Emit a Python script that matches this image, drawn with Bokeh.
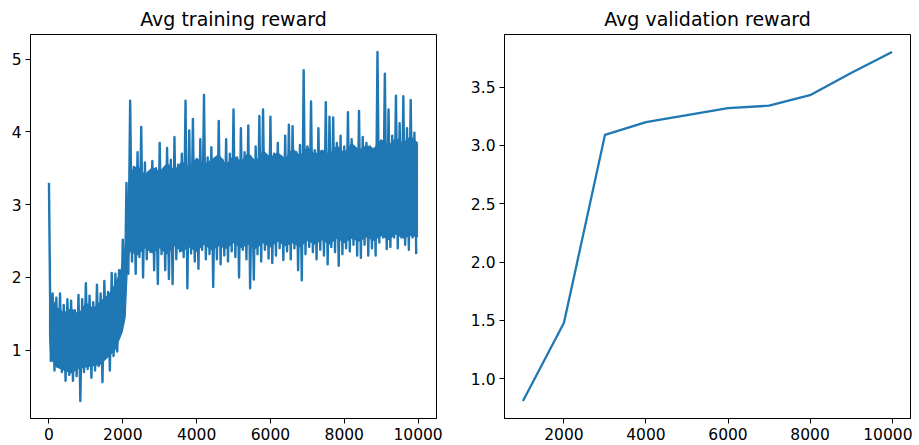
from bokeh.plotting import figure
from bokeh.layouts import row
from bokeh.models import Range1d, FixedTicker
from bokeh.embed import file_html
from bokeh.resources import INLINE

# ---- training reward (local highs / lows) ----
train_hi_x = list(range(0, 10000, 100))
train_hi = [3.30, 1.78, 1.72, 1.78, 1.62, 1.70, 1.68, 1.55, 1.76, 1.70,
            1.92, 1.75, 1.66, 1.90, 1.78, 1.95, 1.80, 2.06, 2.05, 2.10,
            2.52, 3.30, 4.43, 3.52, 3.72, 4.07, 3.58, 3.45, 3.60, 3.50,
            3.85, 3.40, 3.78, 3.62, 3.93, 3.55, 3.70, 4.43, 4.02, 4.18,
            3.60, 3.90, 4.51, 3.65, 3.79, 3.58, 4.15, 3.62, 3.90, 3.70,
            4.31, 3.65, 4.05, 3.72, 4.09, 3.60, 3.80, 4.22, 4.31, 3.62,
            4.21, 3.70, 3.85, 3.66, 3.95, 4.10, 4.08, 3.72, 3.82, 4.85,
            3.80, 4.42, 3.75, 4.05, 3.70, 4.41, 4.21, 4.20, 3.85, 3.95,
            3.80, 4.27, 3.90, 3.78, 4.29, 3.93, 3.85, 3.80, 3.72, 5.10,
            3.88, 4.80, 4.31, 3.95, 4.50, 4.12, 4.49, 4.05, 4.44, 3.99]
train_lo_x = list(range(50, 10000, 100))
train_lo = [0.85, 0.72, 0.78, 0.70, 0.58, 0.66, 0.58, 0.64, 0.30, 0.70,
            0.74, 0.62, 0.72, 0.78, 0.56, 0.90, 0.72, 0.92, 0.98, 1.25,
            1.50, 2.05, 2.22, 2.05, 2.28, 2.00, 2.25, 2.35, 2.10, 1.91,
            2.32, 2.10, 1.98, 1.91, 2.25, 2.36, 2.28, 1.85, 2.33, 2.22,
            2.12, 2.38, 2.25, 2.32, 1.87, 2.25, 2.18, 2.30, 2.22, 2.36,
            2.28, 2.00, 2.38, 2.25, 1.85, 1.97, 2.32, 2.22, 2.38, 2.26,
            2.20, 2.30, 2.40, 2.24, 2.36, 2.25, 2.40, 2.10, 1.96, 2.32,
            2.42, 2.35, 2.25, 2.38, 2.30, 2.18, 2.42, 2.35, 2.16, 2.32,
            2.40, 2.36, 2.45, 2.30, 2.27, 2.45, 2.30, 2.40, 2.30, 2.48,
            2.55, 2.39, 2.42, 2.55, 2.40, 2.55, 2.45, 2.38, 2.55, 2.32]

# dense core of the noisy band
band_x = [0, 40, 200, 400, 600, 800, 1000, 1200, 1400, 1600, 1800, 2000,
          2080, 2150,
          2200, 2400, 2600, 2800, 3000, 3200, 3400, 3600, 3800, 4000,
          4200, 4400, 4600, 4800, 5000, 5200, 5400, 5600, 5800, 6000,
          6200, 6400, 6600, 6800, 7000, 7200, 7400, 7600, 7800, 8000,
          8200, 8400, 8600, 8800, 9000, 9200, 9400, 9600, 9800, 9999]
band_hi = [3.10, 1.80, 1.60, 1.52, 1.58, 1.50, 1.66, 1.58, 1.68, 1.76, 1.92, 2.20,
           2.50, 3.30,
           3.45, 3.55, 3.42, 3.52, 3.46, 3.58, 3.48, 3.60, 3.52, 3.65,
           3.56, 3.62, 3.70, 3.56, 3.68, 3.60, 3.72, 3.60, 3.75, 3.66,
           3.72, 3.64, 3.78, 3.68, 3.80, 3.70, 3.76, 3.70, 3.82, 3.72,
           3.85, 3.76, 3.82, 3.78, 3.90, 3.82, 3.92, 3.85, 3.95, 3.85]
band_lo = [1.20, 0.88, 0.76, 0.72, 0.68, 0.74, 0.76, 0.78, 0.80, 0.90, 1.00, 1.25,
           1.45, 2.25,
           2.35, 2.30, 2.40, 2.33, 2.40, 2.31, 2.43, 2.35, 2.41, 2.35,
           2.45, 2.37, 2.43, 2.39, 2.47, 2.40, 2.45, 2.39, 2.47, 2.41,
           2.49, 2.43, 2.47, 2.41, 2.50, 2.45, 2.51, 2.45, 2.53, 2.47,
           2.53, 2.49, 2.55, 2.50, 2.57, 2.51, 2.59, 2.53, 2.57, 2.55]

# ---- validation reward ----
val_x = [1000, 2000, 3000, 4000, 5000, 6000, 7000, 8000, 9000, 10000]
val_y = [0.81, 1.48, 3.09, 3.20, 3.26, 3.32, 3.34, 3.43, 3.62, 3.80]

left_xticks = [0, 2000, 4000, 6000, 8000, 10000]
left_yticks = [1, 2, 3, 4, 5]
right_xticks = [2000, 4000, 6000, 8000, 10000]
right_yticks = [1.0, 1.5, 2.0, 2.5, 3.0, 3.5]
right_ylabels = ["1.0", "1.5", "2.0", "2.5", "3.0", "3.5"]

C0 = "#1f77b4"
FONT = "DejaVu Sans"

# interleave local highs and lows into one line
train_x, train_y = [], []
for i in range(len(train_hi_x)):
    train_x.append(train_hi_x[i]); train_y.append(train_hi[i])
    train_x.append(train_lo_x[i]); train_y.append(train_lo[i])


def style(p, title):
    p.title.text = title
    p.title.text_font = FONT
    p.title.text_font_size = "19px"
    p.title.text_font_style = "normal"
    p.title.align = "center"
    p.title.text_color = "black"
    p.outline_line_color = "black"
    p.outline_line_width = 1
    p.xgrid.visible = False
    p.ygrid.visible = False
    for ax in (p.xaxis[0], p.yaxis[0]):
        ax.major_label_text_font = FONT
        ax.major_label_text_font_size = "15.5px"
        ax.major_label_text_color = "black"
        ax.major_tick_out = 5
        ax.major_tick_in = 0
        ax.minor_tick_out = 0
        ax.minor_tick_in = 0
        ax.axis_line_color = "black"
        ax.major_tick_line_color = "black"
        ax.major_label_standoff = 4


p1 = figure(frame_width=406, frame_height=384, output_backend="svg", toolbar_location=None,
            x_range=Range1d(-500, 10499), y_range=Range1d(0.06, 5.34),
            min_border_left=30, min_border_right=31, min_border_top=25, min_border_bottom=0)
style(p1, "Avg training reward")
p1.xaxis[0].ticker = FixedTicker(ticks=left_xticks)
p1.yaxis[0].ticker = FixedTicker(ticks=left_yticks)
p1.varea(x=band_x, y1=band_lo, y2=band_hi, fill_color=C0)
p1.line(train_x, train_y, line_color=C0, line_width=2.4, line_join="round")

p2 = figure(frame_width=406, frame_height=384, output_backend="svg", toolbar_location=None,
            x_range=Range1d(550, 10450), y_range=Range1d(0.66, 3.95),
            min_border_left=35, min_border_right=2, min_border_top=25, min_border_bottom=0)
style(p2, "Avg validation reward")
p2.xaxis[0].ticker = FixedTicker(ticks=right_xticks)
p2.yaxis[0].ticker = FixedTicker(ticks=right_yticks)
p2.yaxis[0].major_label_overrides = {t: l for t, l in zip(right_yticks, right_ylabels)}
p2.line(val_x, val_y, line_color=C0, line_width=2.3, line_join="round")

layout = row(p1, p2)
open("out.html", "w").write(file_html(layout, INLINE))
